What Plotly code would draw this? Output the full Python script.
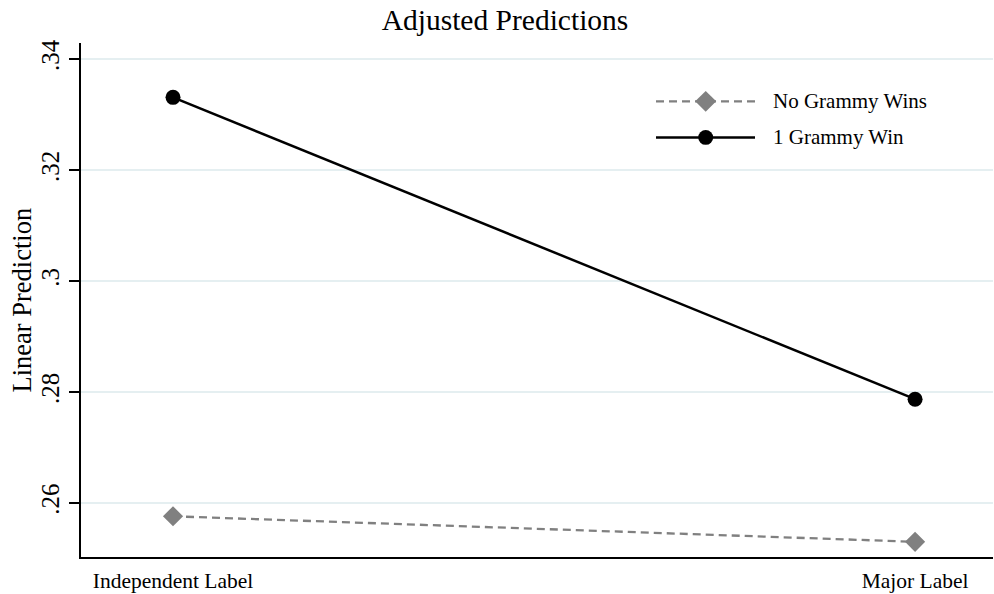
import plotly.graph_objects as go

# ---- data ----
categories = ["Independent Label", "Major Label"]
cat_pos = [0, 1]
no_grammy = [0.2576, 0.2530]
one_grammy = [0.3331, 0.2787]
series_names = ["No Grammy Wins", "1 Grammy Win"]
y_ticks = [0.26, 0.28, 0.30, 0.32, 0.34]
y_tick_labels = [".26", ".28", ".3", ".32", ".34"]

# ---- layout constants (pixels) ----
W, H = 994, 594
L, R, T, B = 81, 1, 43, 31
PW, PH = W - L - R, H - T - B
FONT = "Liberation Serif"

def px(x):
    return (x - L) / PW

def py(y):
    return (H - B - y) / PH

GRAY = "#808080"
BLACK = "#000000"

fig = go.Figure()
fig.add_trace(go.Scatter(
    x=cat_pos, y=no_grammy, mode="lines+markers", name=series_names[0],
    line=dict(color=GRAY, width=2.3, dash="8px,5px"),
    marker=dict(symbol="diamond", size=15.5, color=GRAY, line=dict(width=0)),
    showlegend=False,
))
fig.add_trace(go.Scatter(
    x=cat_pos, y=one_grammy, mode="lines+markers", name=series_names[1],
    line=dict(color=BLACK, width=2.5),
    marker=dict(symbol="circle", size=15, color=BLACK, line=dict(width=0)),
    showlegend=False,
))

# ---- manual legend (long Stata-style keys) ----
shapes = []
annotations = []
leg_items = [
    dict(y=102, color=GRAY, dash="8px,5px", width=2.3, marker="diamond"),
    dict(y=138.5, color=BLACK, dash="solid", width=2.5, marker="circle"),
]
for it, name in zip(leg_items, series_names):
    shapes.append(dict(type="line", xref="paper", yref="paper",
                       x0=px(656), x1=px(755), y0=py(it["y"]), y1=py(it["y"]),
                       line=dict(color=it["color"], width=it["width"], dash=it["dash"])))
    cx = 705.7
    if it["marker"] == "diamond":
        r = 10.5
        path = "M {} {} L {} {} L {} {} L {} {} Z".format(
            px(cx - r), py(it["y"]), px(cx), py(it["y"] - r),
            px(cx + r), py(it["y"]), px(cx), py(it["y"] + r))
        shapes.append(dict(type="path", xref="paper", yref="paper", path=path,
                           fillcolor=it["color"], line=dict(width=0)))
    else:
        r = 7.5
        shapes.append(dict(type="circle", xref="paper", yref="paper",
                           x0=px(cx - r), x1=px(cx + r), y0=py(it["y"] + r), y1=py(it["y"] - r),
                           fillcolor=it["color"], line=dict(width=0)))
    annotations.append(dict(text=name, xref="paper", yref="paper",
                            x=px(771), y=py(it["y"]), xanchor="left", yanchor="middle",
                            showarrow=False, font=dict(family=FONT, size=21, color="black")))

# y-axis title
annotations.append(dict(text="Linear Prediction", xref="paper", yref="paper",
                        x=px(22), y=py(303.5), xanchor="center", yanchor="middle",
                        textangle=-90, showarrow=False,
                        font=dict(family=FONT, size=26.5, color="black")))

fig.update_layout(
    width=W, height=H,
    margin=dict(l=L, r=R, t=T, b=B, pad=0),
    paper_bgcolor="white", plot_bgcolor="white",
    title=dict(text="Adjusted Predictions", x=505 / W, xanchor="center", xref="container",
               y=1 - 19.5 / H, yanchor="middle", yref="container",
               font=dict(family=FONT, size=29.5, color="black")),
    shapes=shapes, annotations=annotations,
    showlegend=False,
)
fig.update_xaxes(
    range=[-0.124, 1.105], tickvals=cat_pos, ticktext=categories,
    showgrid=False, zeroline=False, showline=True, linecolor="black", linewidth=1.6,
    ticks="", tickfont=dict(family=FONT, size=21.5, color="black"),
    ticklabelstandoff=3,
)
fig.update_yaxes(
    range=[0.25026, 0.3429], tickvals=y_ticks, ticktext=y_tick_labels,
    showgrid=True, gridcolor="#e5eff1", gridwidth=1.5, zeroline=False,
    showline=True, linecolor="black", linewidth=1.6,
    ticks="outside", ticklen=10, tickwidth=1.5, tickcolor="black",
    tickangle=-90, tickfont=dict(family=FONT, size=25, color="black"),
)

fig.write_html("out.html", config={"displayModeBar": False},
               post_script="document.body.style.margin='0';document.body.style.padding='0';")
